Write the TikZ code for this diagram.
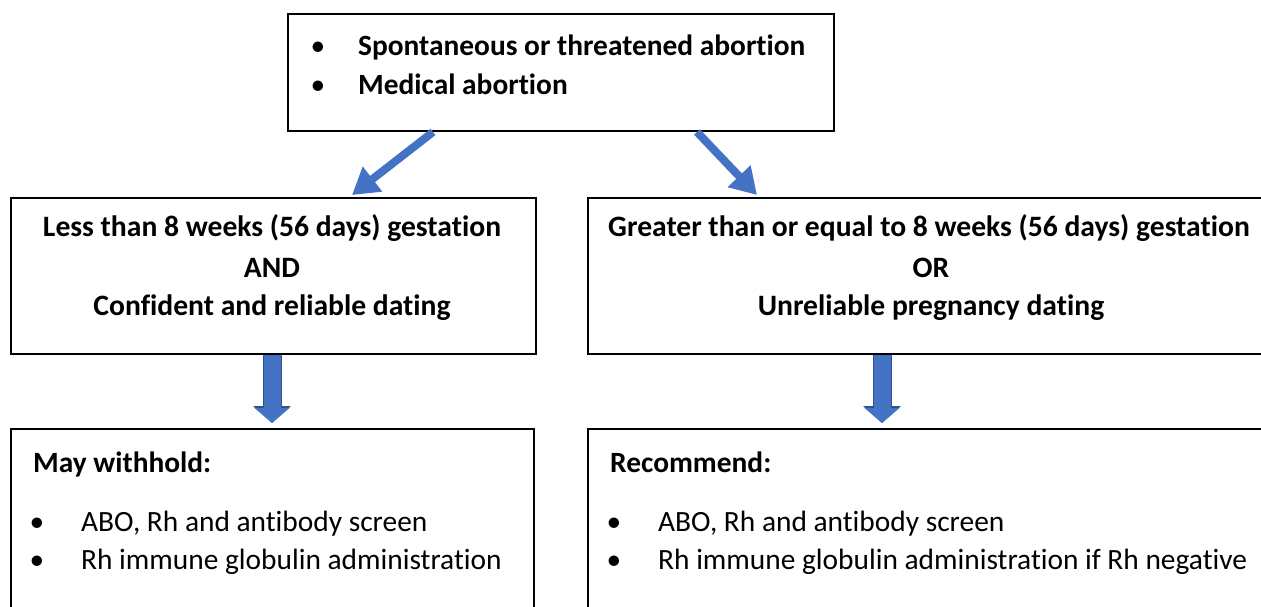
\documentclass[tikz,border=0pt]{standalone}
\usepackage{fontspec}
\setmainfont{Carlito}[Ligatures=NoCommon]
\usetikzlibrary{arrows.meta,calc}

\definecolor{officeblue}{HTML}{4472C4}
\definecolor{officeedge}{HTML}{2F528F}

\tikzset{
    box/.style={draw, line width=2pt, inner sep=0pt, anchor=north west},
    diagarrow/.style={officeblue, line width=8pt, -{Triangle[length=26pt,width=30pt]}},
    downarrow/.style={officeblue, line width=17pt, -{Triangle[length=15pt,width=34pt]},
        preaction={draw=officeedge, line width=19pt, -{Triangle[length=17pt,width=37pt]}}},
    dot/.style={anchor=base, inner sep=0pt},
    txt/.style={anchor=base west, inner sep=0pt},
    ctxt/.style={anchor=base, inner sep=0pt, font=\fontsize{29.6}{34}\selectfont\bfseries}
}

\begin{document}
\begin{tikzpicture}[x=1pt,y=-1pt,font=\fontsize{29.4}{34}\selectfont]
    \useasboundingbox (0,0) rectangle (1261,606);
    \clip (0,0) rectangle (1261,606);

    % Boxes
    \node[box, minimum width=546pt, minimum height=117pt] (top) at (287,13) {};
    \node[box, minimum width=525pt, minimum height=156pt] (less) at (10,197) {};
    \node[box, minimum width=690pt, minimum height=156pt] (geq) at (587,197) {};
    \node[box, minimum width=523pt, minimum height=220pt] (hold) at (10,428) {};
    \node[box, minimum width=690pt, minimum height=220pt] (recommend) at (587,428) {};

    % Starting situations
    \node[dot] (topdot1) at (318,55) {\textbullet};
    \node[txt] (toptext1) at (358,55) {\bfseries Spontaneous or threatened abortion};
    \node[dot] (topdot2) at (318,94) {\textbullet};
    \node[txt] (toptext2) at (358,94) {\bfseries Medical abortion};

    % Gestation
    \node[ctxt] (less1) at (272,236) {Less than 8 weeks (56 days) gestation};
    \node[ctxt] (less2) at (272,277) {AND};
    \node[ctxt] (less3) at (272,315) {Confident and reliable dating};
    \node[ctxt] (geq1) at (929,236) {Greater than or equal to 8 weeks (56 days) gestation};
    \node[ctxt] (geq2) at (931,277) {OR};
    \node[ctxt] (geq3) at (931,315) {Unreliable pregnancy dating};

    % Testing
    \node[txt] (holdhead) at (33,472) {\bfseries May withhold:};
    \node[dot] (holddot1) at (37,531) {\textbullet};
    \node[txt] (holdtext1) at (81,531) {ABO, Rh and antibody screen};
    \node[dot] (holddot2) at (37,569) {\textbullet};
    \node[txt] (holdtext2) at (81,569) {Rh immune globulin administration};
    \node[txt] (rechead) at (610,472) {\bfseries Recommend:};
    \node[dot] (recdot1) at (614,531) {\textbullet};
    \node[txt] (rectext1) at (658,531) {ABO, Rh and antibody screen};
    \node[dot] (recdot2) at (614,569) {\textbullet};
    \node[txt] (rectext2) at (658,569) {Rh immune globulin administration if Rh negative};

    % Arrows
    \draw[diagarrow] ($(top.south west)+(146,0)$) -- ($(less.north west)+(342,-2)$);
    \draw[diagarrow] ($(top.south west)+(410,0)$) -- ($(geq.north west)+(170,-2)$);
    \draw[downarrow] ($(less.south west)+(262,0)$) -- ($(hold.north west)+(262,-5)$);
    \draw[downarrow] ($(geq.south west)+(295,0)$) -- ($(recommend.north west)+(295,-5)$);
\end{tikzpicture}
\end{document}
